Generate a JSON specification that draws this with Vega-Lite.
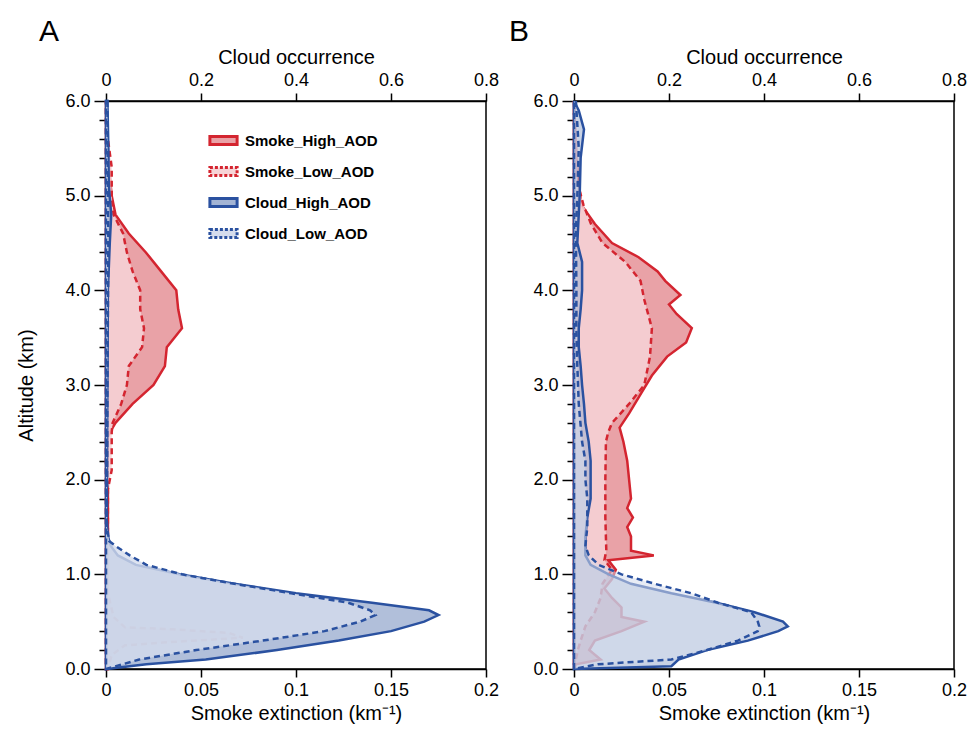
{
  "$schema": "https://vega.github.io/schema/vega-lite/v6.json",
  "background": "white",
  "padding": {"left": 16, "top": 16, "right": 10, "bottom": 5},
  "datasets": {
    "profiles": [
      {"p":"A","s":"Smoke_High_AOD","a":0,"v":0.001},{"p":"A","s":"Smoke_High_AOD","a":1.0,"v":0.001},{"p":"A","s":"Smoke_High_AOD","a":2.0,"v":0.001},{"p":"A","s":"Smoke_High_AOD","a":2.45,"v":0.001},{"p":"A","s":"Smoke_High_AOD","a":2.5,"v":0.002},{"p":"A","s":"Smoke_High_AOD","a":2.6,"v":0.005},{"p":"A","s":"Smoke_High_AOD","a":2.8,"v":0.014},{"p":"A","s":"Smoke_High_AOD","a":3.0,"v":0.025},{"p":"A","s":"Smoke_High_AOD","a":3.2,"v":0.031},{"p":"A","s":"Smoke_High_AOD","a":3.4,"v":0.032},{"p":"A","s":"Smoke_High_AOD","a":3.6,"v":0.04},{"p":"A","s":"Smoke_High_AOD","a":3.8,"v":0.038},{"p":"A","s":"Smoke_High_AOD","a":4.0,"v":0.037},{"p":"A","s":"Smoke_High_AOD","a":4.2,"v":0.029},{"p":"A","s":"Smoke_High_AOD","a":4.4,"v":0.021},{"p":"A","s":"Smoke_High_AOD","a":4.6,"v":0.012},{"p":"A","s":"Smoke_High_AOD","a":4.8,"v":0.005},{"p":"A","s":"Smoke_High_AOD","a":5.0,"v":0.003},{"p":"A","s":"Smoke_High_AOD","a":5.2,"v":0.002},{"p":"A","s":"Smoke_High_AOD","a":5.5,"v":0.001},{"p":"A","s":"Smoke_High_AOD","a":6.0,"v":0},
      {"p":"A","s":"Smoke_Low_AOD","a":0,"v":0.001},{"p":"A","s":"Smoke_Low_AOD","a":0.15,"v":0.003},{"p":"A","s":"Smoke_Low_AOD","a":0.25,"v":0.01},{"p":"A","s":"Smoke_Low_AOD","a":0.28,"v":0.03},{"p":"A","s":"Smoke_Low_AOD","a":0.33,"v":0.072},{"p":"A","s":"Smoke_Low_AOD","a":0.38,"v":0.065},{"p":"A","s":"Smoke_Low_AOD","a":0.42,"v":0.035},{"p":"A","s":"Smoke_Low_AOD","a":0.44,"v":0.01},{"p":"A","s":"Smoke_Low_AOD","a":0.55,"v":0.004},{"p":"A","s":"Smoke_Low_AOD","a":0.8,"v":0.001},{"p":"A","s":"Smoke_Low_AOD","a":1.9,"v":0.001},{"p":"A","s":"Smoke_Low_AOD","a":2.1,"v":0.003},{"p":"A","s":"Smoke_Low_AOD","a":2.3,"v":0.003},{"p":"A","s":"Smoke_Low_AOD","a":2.5,"v":0.003},{"p":"A","s":"Smoke_Low_AOD","a":2.6,"v":0.0035},{"p":"A","s":"Smoke_Low_AOD","a":2.8,"v":0.008},{"p":"A","s":"Smoke_Low_AOD","a":3.0,"v":0.011},{"p":"A","s":"Smoke_Low_AOD","a":3.2,"v":0.012},{"p":"A","s":"Smoke_Low_AOD","a":3.4,"v":0.019},{"p":"A","s":"Smoke_Low_AOD","a":3.6,"v":0.02},{"p":"A","s":"Smoke_Low_AOD","a":3.8,"v":0.018},{"p":"A","s":"Smoke_Low_AOD","a":4.0,"v":0.018},{"p":"A","s":"Smoke_Low_AOD","a":4.2,"v":0.014},{"p":"A","s":"Smoke_Low_AOD","a":4.4,"v":0.011},{"p":"A","s":"Smoke_Low_AOD","a":4.6,"v":0.009},{"p":"A","s":"Smoke_Low_AOD","a":4.8,"v":0.004},{"p":"A","s":"Smoke_Low_AOD","a":5.0,"v":0.003},{"p":"A","s":"Smoke_Low_AOD","a":5.3,"v":0.003},{"p":"A","s":"Smoke_Low_AOD","a":5.6,"v":0.001},{"p":"A","s":"Smoke_Low_AOD","a":6.0,"v":0},
      {"p":"A","s":"Cloud_High_AOD","a":0,"v":0},{"p":"A","s":"Cloud_High_AOD","a":0.05,"v":0.085},{"p":"A","s":"Cloud_High_AOD","a":0.1,"v":0.21},{"p":"A","s":"Cloud_High_AOD","a":0.2,"v":0.36},{"p":"A","s":"Cloud_High_AOD","a":0.3,"v":0.49},{"p":"A","s":"Cloud_High_AOD","a":0.4,"v":0.6},{"p":"A","s":"Cloud_High_AOD","a":0.5,"v":0.67},{"p":"A","s":"Cloud_High_AOD","a":0.57,"v":0.7},{"p":"A","s":"Cloud_High_AOD","a":0.62,"v":0.68},{"p":"A","s":"Cloud_High_AOD","a":0.7,"v":0.56},{"p":"A","s":"Cloud_High_AOD","a":0.8,"v":0.4},{"p":"A","s":"Cloud_High_AOD","a":0.9,"v":0.27},{"p":"A","s":"Cloud_High_AOD","a":1.0,"v":0.155},{"p":"A","s":"Cloud_High_AOD","a":1.1,"v":0.063},{"p":"A","s":"Cloud_High_AOD","a":1.2,"v":0.025},{"p":"A","s":"Cloud_High_AOD","a":1.3,"v":0.01},{"p":"A","s":"Cloud_High_AOD","a":1.4,"v":0.004},{"p":"A","s":"Cloud_High_AOD","a":1.6,"v":0.001},{"p":"A","s":"Cloud_High_AOD","a":2.0,"v":0.002},{"p":"A","s":"Cloud_High_AOD","a":3.0,"v":0.003},{"p":"A","s":"Cloud_High_AOD","a":4.0,"v":0.004},{"p":"A","s":"Cloud_High_AOD","a":4.5,"v":0.008},{"p":"A","s":"Cloud_High_AOD","a":4.8,"v":0.011},{"p":"A","s":"Cloud_High_AOD","a":5.1,"v":0.006},{"p":"A","s":"Cloud_High_AOD","a":5.5,"v":0.005},{"p":"A","s":"Cloud_High_AOD","a":6.0,"v":0.003},
      {"p":"A","s":"Cloud_Low_AOD","a":0,"v":0},{"p":"A","s":"Cloud_Low_AOD","a":0.05,"v":0.035},{"p":"A","s":"Cloud_Low_AOD","a":0.1,"v":0.07},{"p":"A","s":"Cloud_Low_AOD","a":0.2,"v":0.19},{"p":"A","s":"Cloud_Low_AOD","a":0.3,"v":0.33},{"p":"A","s":"Cloud_Low_AOD","a":0.4,"v":0.46},{"p":"A","s":"Cloud_Low_AOD","a":0.5,"v":0.535},{"p":"A","s":"Cloud_Low_AOD","a":0.57,"v":0.567},{"p":"A","s":"Cloud_Low_AOD","a":0.62,"v":0.556},{"p":"A","s":"Cloud_Low_AOD","a":0.7,"v":0.51},{"p":"A","s":"Cloud_Low_AOD","a":0.8,"v":0.39},{"p":"A","s":"Cloud_Low_AOD","a":0.9,"v":0.27},{"p":"A","s":"Cloud_Low_AOD","a":1.0,"v":0.16},{"p":"A","s":"Cloud_Low_AOD","a":1.1,"v":0.085},{"p":"A","s":"Cloud_Low_AOD","a":1.2,"v":0.05},{"p":"A","s":"Cloud_Low_AOD","a":1.3,"v":0.02},{"p":"A","s":"Cloud_Low_AOD","a":1.35,"v":0.007},{"p":"A","s":"Cloud_Low_AOD","a":1.5,"v":0.002},{"p":"A","s":"Cloud_Low_AOD","a":3.0,"v":0.003},{"p":"A","s":"Cloud_Low_AOD","a":4.5,"v":0.005},{"p":"A","s":"Cloud_Low_AOD","a":5.0,"v":0.004},{"p":"A","s":"Cloud_Low_AOD","a":6.0,"v":0.003},
      {"p":"B","s":"Smoke_High_AOD","a":0,"v":0},{"p":"B","s":"Smoke_High_AOD","a":0.05,"v":0.001},{"p":"B","s":"Smoke_High_AOD","a":0.1,"v":0.014},{"p":"B","s":"Smoke_High_AOD","a":0.2,"v":0.008},{"p":"B","s":"Smoke_High_AOD","a":0.3,"v":0.011},{"p":"B","s":"Smoke_High_AOD","a":0.4,"v":0.025},{"p":"B","s":"Smoke_High_AOD","a":0.5,"v":0.037},{"p":"B","s":"Smoke_High_AOD","a":0.55,"v":0.025},{"p":"B","s":"Smoke_High_AOD","a":0.65,"v":0.025},{"p":"B","s":"Smoke_High_AOD","a":0.75,"v":0.02},{"p":"B","s":"Smoke_High_AOD","a":0.85,"v":0.016},{"p":"B","s":"Smoke_High_AOD","a":0.95,"v":0.02},{"p":"B","s":"Smoke_High_AOD","a":1.05,"v":0.022},{"p":"B","s":"Smoke_High_AOD","a":1.15,"v":0.018},{"p":"B","s":"Smoke_High_AOD","a":1.2,"v":0.042},{"p":"B","s":"Smoke_High_AOD","a":1.25,"v":0.03},{"p":"B","s":"Smoke_High_AOD","a":1.4,"v":0.03},{"p":"B","s":"Smoke_High_AOD","a":1.5,"v":0.028},{"p":"B","s":"Smoke_High_AOD","a":1.6,"v":0.031},{"p":"B","s":"Smoke_High_AOD","a":1.7,"v":0.028},{"p":"B","s":"Smoke_High_AOD","a":1.8,"v":0.03},{"p":"B","s":"Smoke_High_AOD","a":2.0,"v":0.029},{"p":"B","s":"Smoke_High_AOD","a":2.2,"v":0.028},{"p":"B","s":"Smoke_High_AOD","a":2.4,"v":0.026},{"p":"B","s":"Smoke_High_AOD","a":2.55,"v":0.024},{"p":"B","s":"Smoke_High_AOD","a":2.7,"v":0.029},{"p":"B","s":"Smoke_High_AOD","a":2.9,"v":0.035},{"p":"B","s":"Smoke_High_AOD","a":3.1,"v":0.041},{"p":"B","s":"Smoke_High_AOD","a":3.3,"v":0.049},{"p":"B","s":"Smoke_High_AOD","a":3.45,"v":0.059},{"p":"B","s":"Smoke_High_AOD","a":3.6,"v":0.062},{"p":"B","s":"Smoke_High_AOD","a":3.75,"v":0.054},{"p":"B","s":"Smoke_High_AOD","a":3.85,"v":0.05},{"p":"B","s":"Smoke_High_AOD","a":3.95,"v":0.056},{"p":"B","s":"Smoke_High_AOD","a":4.1,"v":0.048},{"p":"B","s":"Smoke_High_AOD","a":4.2,"v":0.044},{"p":"B","s":"Smoke_High_AOD","a":4.35,"v":0.034},{"p":"B","s":"Smoke_High_AOD","a":4.5,"v":0.02},{"p":"B","s":"Smoke_High_AOD","a":4.7,"v":0.011},{"p":"B","s":"Smoke_High_AOD","a":4.9,"v":0.004},{"p":"B","s":"Smoke_High_AOD","a":5.2,"v":0.002},{"p":"B","s":"Smoke_High_AOD","a":5.6,"v":0.001},{"p":"B","s":"Smoke_High_AOD","a":6.0,"v":0},
      {"p":"B","s":"Smoke_Low_AOD","a":0,"v":0},{"p":"B","s":"Smoke_Low_AOD","a":0.1,"v":0.001},{"p":"B","s":"Smoke_Low_AOD","a":0.2,"v":0.002},{"p":"B","s":"Smoke_Low_AOD","a":0.3,"v":0.0035},{"p":"B","s":"Smoke_Low_AOD","a":0.45,"v":0.006},{"p":"B","s":"Smoke_Low_AOD","a":0.6,"v":0.011},{"p":"B","s":"Smoke_Low_AOD","a":0.75,"v":0.014},{"p":"B","s":"Smoke_Low_AOD","a":0.9,"v":0.015},{"p":"B","s":"Smoke_Low_AOD","a":1.05,"v":0.02},{"p":"B","s":"Smoke_Low_AOD","a":1.15,"v":0.016},{"p":"B","s":"Smoke_Low_AOD","a":1.25,"v":0.017},{"p":"B","s":"Smoke_Low_AOD","a":1.6,"v":0.0165},{"p":"B","s":"Smoke_Low_AOD","a":2.0,"v":0.0165},{"p":"B","s":"Smoke_Low_AOD","a":2.4,"v":0.0168},{"p":"B","s":"Smoke_Low_AOD","a":2.5,"v":0.018},{"p":"B","s":"Smoke_Low_AOD","a":2.6,"v":0.02},{"p":"B","s":"Smoke_Low_AOD","a":2.8,"v":0.029},{"p":"B","s":"Smoke_Low_AOD","a":3.0,"v":0.037},{"p":"B","s":"Smoke_Low_AOD","a":3.3,"v":0.04},{"p":"B","s":"Smoke_Low_AOD","a":3.6,"v":0.041},{"p":"B","s":"Smoke_Low_AOD","a":3.9,"v":0.037},{"p":"B","s":"Smoke_Low_AOD","a":4.1,"v":0.035},{"p":"B","s":"Smoke_Low_AOD","a":4.3,"v":0.027},{"p":"B","s":"Smoke_Low_AOD","a":4.5,"v":0.015},{"p":"B","s":"Smoke_Low_AOD","a":4.7,"v":0.009},{"p":"B","s":"Smoke_Low_AOD","a":4.9,"v":0.005},{"p":"B","s":"Smoke_Low_AOD","a":5.05,"v":0.003},{"p":"B","s":"Smoke_Low_AOD","a":5.2,"v":0.001},{"p":"B","s":"Smoke_Low_AOD","a":6.0,"v":0},
      {"p":"B","s":"Cloud_High_AOD","a":0,"v":0},{"p":"B","s":"Cloud_High_AOD","a":0.03,"v":0.205},{"p":"B","s":"Cloud_High_AOD","a":0.1,"v":0.22},{"p":"B","s":"Cloud_High_AOD","a":0.2,"v":0.28},{"p":"B","s":"Cloud_High_AOD","a":0.3,"v":0.366},{"p":"B","s":"Cloud_High_AOD","a":0.4,"v":0.43},{"p":"B","s":"Cloud_High_AOD","a":0.45,"v":0.45},{"p":"B","s":"Cloud_High_AOD","a":0.5,"v":0.44},{"p":"B","s":"Cloud_High_AOD","a":0.6,"v":0.38},{"p":"B","s":"Cloud_High_AOD","a":0.7,"v":0.3},{"p":"B","s":"Cloud_High_AOD","a":0.8,"v":0.205},{"p":"B","s":"Cloud_High_AOD","a":0.9,"v":0.12},{"p":"B","s":"Cloud_High_AOD","a":1.0,"v":0.073},{"p":"B","s":"Cloud_High_AOD","a":1.1,"v":0.035},{"p":"B","s":"Cloud_High_AOD","a":1.2,"v":0.024},{"p":"B","s":"Cloud_High_AOD","a":1.4,"v":0.024},{"p":"B","s":"Cloud_High_AOD","a":1.6,"v":0.028},{"p":"B","s":"Cloud_High_AOD","a":1.8,"v":0.035},{"p":"B","s":"Cloud_High_AOD","a":2.2,"v":0.035},{"p":"B","s":"Cloud_High_AOD","a":2.4,"v":0.031},{"p":"B","s":"Cloud_High_AOD","a":2.6,"v":0.024},{"p":"B","s":"Cloud_High_AOD","a":2.8,"v":0.021},{"p":"B","s":"Cloud_High_AOD","a":3.0,"v":0.017},{"p":"B","s":"Cloud_High_AOD","a":3.2,"v":0.014},{"p":"B","s":"Cloud_High_AOD","a":3.4,"v":0.01},{"p":"B","s":"Cloud_High_AOD","a":3.6,"v":0.01},{"p":"B","s":"Cloud_High_AOD","a":3.8,"v":0.014},{"p":"B","s":"Cloud_High_AOD","a":4.0,"v":0.017},{"p":"B","s":"Cloud_High_AOD","a":4.3,"v":0.017},{"p":"B","s":"Cloud_High_AOD","a":4.5,"v":0.007},{"p":"B","s":"Cloud_High_AOD","a":4.7,"v":0.009},{"p":"B","s":"Cloud_High_AOD","a":5.0,"v":0.012},{"p":"B","s":"Cloud_High_AOD","a":5.4,"v":0.014},{"p":"B","s":"Cloud_High_AOD","a":5.7,"v":0.021},{"p":"B","s":"Cloud_High_AOD","a":5.9,"v":0.01},{"p":"B","s":"Cloud_High_AOD","a":6.0,"v":0},
      {"p":"B","s":"Cloud_Low_AOD","a":0,"v":0},{"p":"B","s":"Cloud_Low_AOD","a":0.05,"v":0.05},{"p":"B","s":"Cloud_Low_AOD","a":0.1,"v":0.205},{"p":"B","s":"Cloud_Low_AOD","a":0.2,"v":0.28},{"p":"B","s":"Cloud_Low_AOD","a":0.3,"v":0.345},{"p":"B","s":"Cloud_Low_AOD","a":0.4,"v":0.387},{"p":"B","s":"Cloud_Low_AOD","a":0.45,"v":0.39},{"p":"B","s":"Cloud_Low_AOD","a":0.5,"v":0.387},{"p":"B","s":"Cloud_Low_AOD","a":0.6,"v":0.373},{"p":"B","s":"Cloud_Low_AOD","a":0.7,"v":0.303},{"p":"B","s":"Cloud_Low_AOD","a":0.8,"v":0.247},{"p":"B","s":"Cloud_Low_AOD","a":0.9,"v":0.17},{"p":"B","s":"Cloud_Low_AOD","a":1.0,"v":0.1},{"p":"B","s":"Cloud_Low_AOD","a":1.1,"v":0.052},{"p":"B","s":"Cloud_Low_AOD","a":1.2,"v":0.031},{"p":"B","s":"Cloud_Low_AOD","a":1.3,"v":0.024},{"p":"B","s":"Cloud_Low_AOD","a":1.5,"v":0.028},{"p":"B","s":"Cloud_Low_AOD","a":1.8,"v":0.028},{"p":"B","s":"Cloud_Low_AOD","a":2.0,"v":0.024},{"p":"B","s":"Cloud_Low_AOD","a":2.2,"v":0.024},{"p":"B","s":"Cloud_Low_AOD","a":2.4,"v":0.017},{"p":"B","s":"Cloud_Low_AOD","a":2.8,"v":0.01},{"p":"B","s":"Cloud_Low_AOD","a":3.2,"v":0.007},{"p":"B","s":"Cloud_Low_AOD","a":3.6,"v":0.005},{"p":"B","s":"Cloud_Low_AOD","a":4.0,"v":0.005},{"p":"B","s":"Cloud_Low_AOD","a":4.6,"v":0.004},{"p":"B","s":"Cloud_Low_AOD","a":5.0,"v":0.007},{"p":"B","s":"Cloud_Low_AOD","a":5.5,"v":0.01},{"p":"B","s":"Cloud_Low_AOD","a":6.0,"v":0.004}
    ]
  },
  "hconcat": [
    {
      "width": 380,
      "height": 568,
      "title": {"text": "A", "anchor": "start", "frame": "bounds", "fontSize": 30, "fontWeight": "normal", "dx": 22, "offset": 0},
      "data": {"name": "profiles"},
      "transform": [{"filter": "datum.p == 'A'"}],
      "resolve": {"scale": {"x": "independent"}},
      "encoding": {
        "y": {"field": "a", "type": "quantitative", "title": "Altitude (km)", "scale": {"domain": [0, 6]},
          "axis": {"values": [0,0.2,0.4,0.6,0.8,1,1.2,1.4,1.6,1.8,2,2.2,2.4,2.6,2.8,3,3.2,3.4,3.6,3.8,4,4.2,4.4,4.6,4.8,5,5.2,5.4,5.6,5.8,6],
            "labelOverlap": false,
            "tickSize": {"condition": {"test": "abs(datum.value - round(datum.value)) < 0.01", "value": 12}, "value": 7},
            "labelExpr": "abs(datum.value - round(datum.value)) < 0.01 ? format(datum.value, '.1f') : ''"}}
      },
      "layer": [
        {
          "transform": [{"filter": "datum.s == 'Smoke_High_AOD'"}],
          "mark": {"type": "area", "orient": "horizontal", "strokeWidth": 2.5, "fillOpacity": 1},
          "encoding": {
            "x": {"field": "v", "type": "quantitative", "stack": null, "title": "Smoke extinction (km⁻¹)",
              "scale": {"domain": [0, 0.2]}, "axis": {"orient": "bottom", "values": [0, 0.05, 0.1, 0.15, 0.2], "labelExpr": "format(datum.value, '~g')"}},
            "fill": {"field": "s", "type": "nominal",
              "scale": {"domain": ["Smoke_High_AOD", "Smoke_Low_AOD", "Cloud_High_AOD", "Cloud_Low_AOD"], "range": ["#e9a2a7", "#f6d4d7", "#a3b4d4", "#d5dcec"]},
              "legend": {"orient": "none", "legendX": 108, "legendY": 30, "title": null,
                "encode": {"symbols": {"update": {"strokeDash": {"signal": "indexof(datum.value, 'Low') > 0 ? [3, 2] : [1, 0]"}}}}}},
            "stroke": {"field": "s", "type": "nominal",
              "scale": {"domain": ["Smoke_High_AOD", "Smoke_Low_AOD", "Cloud_High_AOD", "Cloud_Low_AOD"], "range": ["#d42530", "#d42530", "#2a51a0", "#2a51a0"]}}
          }
        },
        {
          "transform": [{"filter": "datum.s == 'Smoke_Low_AOD'"}],
          "mark": {"type": "area", "orient": "horizontal", "strokeWidth": 2.5, "fillOpacity": 0.85, "strokeDash": [6, 4]},
          "encoding": {
            "x": {"field": "v", "type": "quantitative", "stack": null, "scale": {"domain": [0, 0.2]}, "axis": null},
            "fill": {"field": "s", "type": "nominal"},
            "stroke": {"field": "s", "type": "nominal"}
          }
        },
        {
          "transform": [{"filter": "datum.s == 'Cloud_High_AOD'"}],
          "mark": {"type": "area", "orient": "horizontal", "strokeWidth": 2.5, "fillOpacity": 0.85},
          "encoding": {
            "x": {"field": "v", "type": "quantitative", "stack": null, "title": "Cloud occurrence",
              "scale": {"domain": [0, 0.8]}, "axis": {"orient": "top", "values": [0, 0.2, 0.4, 0.6, 0.8], "labelExpr": "format(datum.value, '~g')"}},
            "fill": {"field": "s", "type": "nominal"},
            "stroke": {"field": "s", "type": "nominal"}
          }
        },
        {
          "transform": [{"filter": "datum.s == 'Cloud_Low_AOD'"}],
          "mark": {"type": "area", "orient": "horizontal", "strokeWidth": 2.5, "fillOpacity": 0.8, "strokeDash": [6, 4]},
          "encoding": {
            "x": {"field": "v", "type": "quantitative", "stack": null, "scale": {"domain": [0, 0.8]}, "axis": null},
            "fill": {"field": "s", "type": "nominal"},
            "stroke": {"field": "s", "type": "nominal"}
          }
        }
      ]
    },
    {
      "width": 380,
      "height": 568,
      "title": {"text": "B", "anchor": "start", "frame": "bounds", "fontSize": 30, "fontWeight": "normal", "dx": -24, "offset": 0},
      "data": {"name": "profiles"},
      "transform": [{"filter": "datum.p == 'B'"}],
      "resolve": {"scale": {"x": "independent"}},
      "encoding": {
        "y": {"field": "a", "type": "quantitative", "title": null, "scale": {"domain": [0, 6]},
          "axis": {"values": [0,0.2,0.4,0.6,0.8,1,1.2,1.4,1.6,1.8,2,2.2,2.4,2.6,2.8,3,3.2,3.4,3.6,3.8,4,4.2,4.4,4.6,4.8,5,5.2,5.4,5.6,5.8,6],
            "labelOverlap": false,
            "tickSize": {"condition": {"test": "abs(datum.value - round(datum.value)) < 0.01", "value": 12}, "value": 7},
            "labelExpr": "abs(datum.value - round(datum.value)) < 0.01 ? format(datum.value, '.1f') : ''"}}
      },
      "layer": [
        {
          "transform": [{"filter": "datum.s == 'Smoke_High_AOD'"}],
          "mark": {"type": "area", "orient": "horizontal", "strokeWidth": 2.5, "fillOpacity": 1},
          "encoding": {
            "x": {"field": "v", "type": "quantitative", "stack": null, "title": "Smoke extinction (km⁻¹)",
              "scale": {"domain": [0, 0.2]}, "axis": {"orient": "bottom", "values": [0, 0.05, 0.1, 0.15, 0.2], "labelExpr": "format(datum.value, '~g')"}},
            "fill": {"field": "s", "type": "nominal", "legend": null},
            "stroke": {"field": "s", "type": "nominal", "legend": null}
          }
        },
        {
          "transform": [{"filter": "datum.s == 'Smoke_Low_AOD'"}],
          "mark": {"type": "area", "orient": "horizontal", "strokeWidth": 2.5, "fillOpacity": 0.85, "strokeDash": [6, 4]},
          "encoding": {
            "x": {"field": "v", "type": "quantitative", "stack": null, "scale": {"domain": [0, 0.2]}, "axis": null},
            "fill": {"field": "s", "type": "nominal", "legend": null},
            "stroke": {"field": "s", "type": "nominal", "legend": null}
          }
        },
        {
          "transform": [{"filter": "datum.s == 'Cloud_High_AOD'"}],
          "mark": {"type": "area", "orient": "horizontal", "strokeWidth": 2.5, "fillOpacity": 0.6},
          "encoding": {
            "x": {"field": "v", "type": "quantitative", "stack": null, "title": "Cloud occurrence",
              "scale": {"domain": [0, 0.8]}, "axis": {"orient": "top", "values": [0, 0.2, 0.4, 0.6, 0.8], "labelExpr": "format(datum.value, '~g')"}},
            "fill": {"field": "s", "type": "nominal", "legend": null},
            "stroke": {"field": "s", "type": "nominal", "legend": null}
          }
        },
        {
          "transform": [{"filter": "datum.s == 'Cloud_Low_AOD'"}],
          "mark": {"type": "area", "orient": "horizontal", "strokeWidth": 2.5, "fillOpacity": 0.55, "strokeDash": [6, 4]},
          "encoding": {
            "x": {"field": "v", "type": "quantitative", "stack": null, "scale": {"domain": [0, 0.8]}, "axis": null},
            "fill": {"field": "s", "type": "nominal", "legend": null},
            "stroke": {"field": "s", "type": "nominal", "legend": null}
          }
        }
      ]
    }
  ],
  "spacing": 8,
  "config": {
    "font": "Liberation Sans",
    "view": {"stroke": "black", "strokeWidth": 1.5},
    "title": {"font": "Liberation Sans", "color": "black"},
    "axis": {"grid": false, "domainColor": "black", "domainWidth": 1.5, "tickColor": "black", "tickWidth": 1.5, "tickSize": 8,
      "labelFont": "Liberation Sans", "labelFontSize": 18, "labelColor": "black", "titleFont": "Liberation Sans", "labelFlush": false,
      "titleFontSize": 20, "titleFontWeight": "normal", "titleColor": "black", "labelPadding": 4},
    "axisY": {"titlePadding": 28},
    "legend": {"labelFontSize": 15, "labelFontWeight": "bold", "labelColor": "black", "labelFont": "Liberation Sans",
      "symbolType": "M-1.7,-0.5H1.7V0.5H-1.7Z", "symbolSize": 256, "symbolStrokeWidth": 3, "rowPadding": 10, "labelOffset": 12}
  }
}
